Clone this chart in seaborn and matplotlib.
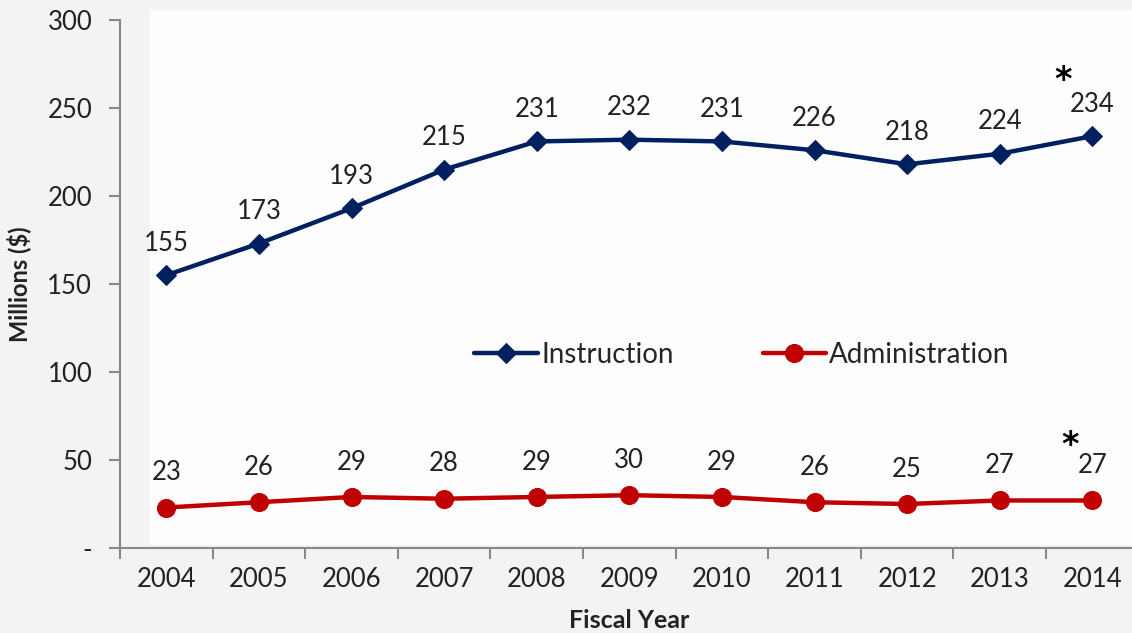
import matplotlib
matplotlib.use('Agg')
import matplotlib.pyplot as plt
import matplotlib.patches as mpatches
from matplotlib.ticker import FixedLocator
import pandas as pd
import seaborn as sns

# Chart data
years = ['2004', '2005', '2006', '2007', '2008', '2009', '2010', '2011', '2012', '2013', '2014']
instruction = [155, 173, 193, 215, 231, 232, 231, 226, 218, 224, 234]
administration = [23, 26, 29, 28, 29, 30, 29, 26, 25, 27, 27]
y_ticks = [0, 50, 100, 150, 200, 250, 300]
y_tick_labels = ['-', '50', '100', '150', '200', '250', '300']

NAVY = '#002060'
RED = '#C00000'
TEXT = '#222222'
FS = 18.5


def draw_chart():
    """Draw the instruction vs administration spending line chart"""
    sns.set_style('white')
    plt.rcParams['font.family'] = ['Lato', 'DejaVu Sans']

    df = pd.DataFrame({'year': range(len(years)),
                       'Instruction': instruction,
                       'Administration': administration})

    fig = plt.figure(figsize=(11.32, 6.33), dpi=100, facecolor='#f3f3f3')
    # light panel behind the plot
    fig.patches.append(mpatches.Rectangle((150 / 1132, 88 / 633), 982 / 1132, 535 / 633,
                                          transform=fig.transFigure, facecolor='#fdfdfd',
                                          edgecolor='none', zorder=-5))
    ax = fig.add_axes([120 / 1132, 85 / 633, 1018.6 / 1132, 528 / 633])
    ax.set_zorder(2)
    ax.set_facecolor('none')

    sns.lineplot(data=df, x='year', y='Instruction', ax=ax, color=NAVY, linewidth=3.2,
                 marker='D', markersize=10, markeredgecolor=NAVY, label='Instruction')
    sns.lineplot(data=df, x='year', y='Administration', ax=ax, color=RED, linewidth=3.2,
                 marker='o', markersize=13, markeredgecolor=RED, label='Administration')

    # data labels
    for i, v in enumerate(instruction):
        ax.annotate(str(v), (i, v), xytext=(0, 14), textcoords='offset points',
                    ha='center', va='bottom', fontsize=FS, color=TEXT)
    for i, v in enumerate(administration):
        ax.annotate(str(v), (i, v), xytext=(0, 16), textcoords='offset points',
                    ha='center', va='bottom', fontsize=FS, color=TEXT)

    # asterisks on the last year
    ax.annotate('*', (len(years) - 1, instruction[-1]), xytext=(-21, 28), textcoords='offset points',
                ha='center', va='bottom', fontsize=24, fontweight='bold', color='black',
                family='DejaVu Sans')
    ax.annotate('*', (len(years) - 1, administration[-1]), xytext=(-16, 28), textcoords='offset points',
                ha='center', va='bottom', fontsize=24, fontweight='bold', color='black',
                family='DejaVu Sans')

    ax.set_xlim(-0.5, len(years) - 0.5)
    ax.set_ylim(0, 300)
    ax.set_xticks(range(len(years)))
    ax.set_xticklabels(years)
    ax.xaxis.set_minor_locator(FixedLocator([i - 0.5 for i in range(len(years) + 1)]))
    ax.set_yticks(y_ticks)
    ax.set_yticklabels(y_tick_labels)

    ax.tick_params(axis='x', which='major', length=0, pad=14, labelsize=FS, labelcolor=TEXT)
    ax.tick_params(axis='x', which='minor', length=8, width=1.5, color='#888888', direction='out')
    ax.tick_params(axis='y', length=8, width=1.5, color='#888888', direction='out',
                   pad=12, labelsize=FS, labelcolor=TEXT)
    ax.tick_params(bottom=True, left=True, which='both')

    for side in ['top', 'right']:
        ax.spines[side].set_visible(False)
    for side in ['left', 'bottom']:
        ax.spines[side].set_color('#888888')
        ax.spines[side].set_linewidth(1.5)

    ax.set_xlabel('Fiscal Year', fontsize=18, fontweight='bold', labelpad=12, color=TEXT)
    ax.set_ylabel('Millions ($)', fontsize=17, fontweight='bold', labelpad=12, color=TEXT)

    ax.legend(loc='center', ncol=2, frameon=False, fontsize=20, handlelength=2.3,
              handletextpad=0.1, columnspacing=3.2,
              bbox_to_anchor=(742 / 1132, (633 - 355) / 633), bbox_transform=fig.transFigure)

    fig.savefig('out.png', dpi=100, facecolor=fig.get_facecolor())
    return fig


if __name__ == "__main__":
    draw_chart()
